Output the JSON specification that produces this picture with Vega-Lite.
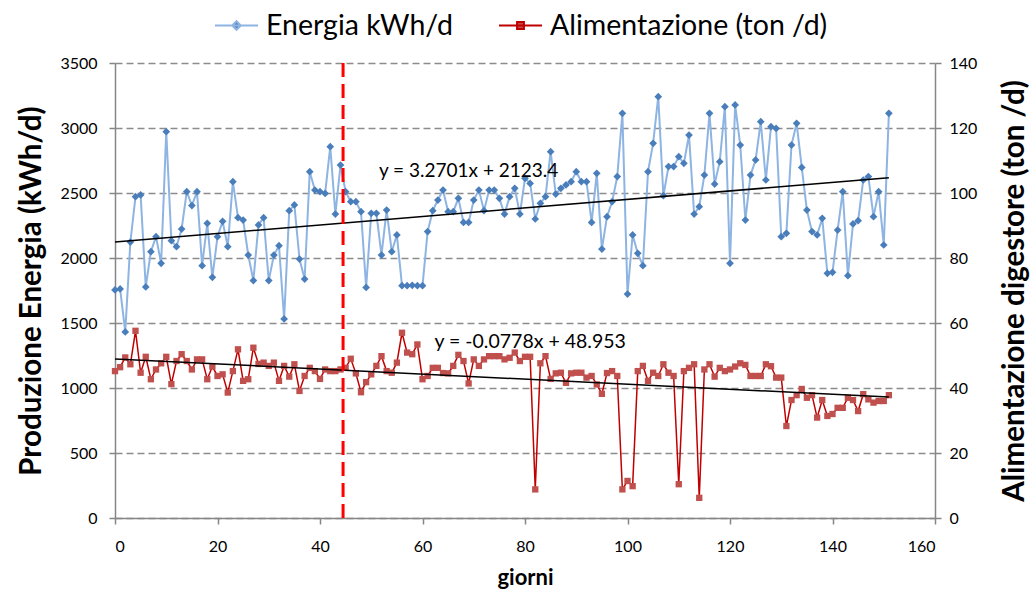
{
 "$schema": "https://vega.github.io/schema/vega-lite/v6.json",
 "width": 820, "height": 455,
 "autosize": "none",
 "padding": {"left": 115, "top": 63, "right": 97, "bottom": 72},
 "background": "white",
 "config": {
  "font": "Lato",
  "view": {"stroke": null},
  "axis": {"domainColor": "#868686", "domainWidth": 1.5, "tickColor": "#868686", "tickWidth": 1.5, "tickSize": 6,
   "labelFontSize": 16, "labelColor": "#000", "labelFont": "Lato", "labelPadding": 12, "format": "d",
   "titleFontSize": 29.5, "titleFont": "Lato", "titleFontWeight": "bold", "titleColor": "#000",
   "gridColor": "#8c8c8c", "gridDash": [7, 4], "gridWidth": 1.3}
 },
 "datasets": {
  "main": [
{"d":0,"e":1754,"a":45.2},{"d":1,"e":1762,"a":46.4},{"d":2,"e":1431,"a":49.4},{"d":3,"e":2123,"a":47.3},{"d":4,"e":2472,"a":57.6},{"d":5,"e":2485,"a":44.7},{"d":6,"e":1777,"a":49.6},{"d":7,"e":2049,"a":42.7},{"d":8,"e":2164,"a":45.7},{"d":9,"e":1959,"a":47.6},
{"d":10,"e":2972,"a":49.6},{"d":11,"e":2133,"a":41.2},{"d":12,"e":2087,"a":48.3},{"d":13,"e":2223,"a":50.4},{"d":14,"e":2510,"a":48.3},{"d":15,"e":2403,"a":45.7},{"d":16,"e":2510,"a":48.8},{"d":17,"e":1941,"a":48.8},{"d":18,"e":2267,"a":42.7},{"d":19,"e":1851,"a":46.6},
{"d":20,"e":2164,"a":43.7},{"d":21,"e":2282,"a":44.2},{"d":22,"e":2087,"a":38.6},{"d":23,"e":2587,"a":45.2},{"d":24,"e":2310,"a":51.9},{"d":25,"e":2292,"a":42.2},{"d":26,"e":2023,"a":42.7},{"d":27,"e":1826,"a":52.4},{"d":28,"e":2254,"a":47.4},{"d":29,"e":2310,"a":47.8},
{"d":30,"e":1826,"a":46.8},{"d":31,"e":2023,"a":47.8},{"d":32,"e":2095,"a":42.2},{"d":33,"e":1531,"a":46.8},{"d":34,"e":2364,"a":43.5},{"d":35,"e":2408,"a":47.3},{"d":36,"e":1992,"a":39.1},{"d":37,"e":1838,"a":43.7},{"d":38,"e":2664,"a":46.2},{"d":39,"e":2523,"a":45.2},
{"d":40,"e":2510,"a":42.8},{"d":41,"e":2497,"a":45.7},{"d":42,"e":2856,"a":45.2},{"d":43,"e":2338,"a":45.2},{"d":44,"e":2715,"a":45.7},{"d":45,"e":2510,"a":46.2},{"d":46,"e":2433,"a":49.0},{"d":47,"e":2433,"a":44.5},{"d":48,"e":2356,"a":38.7},{"d":49,"e":1774,"a":41.8},
{"d":50,"e":2344,"a":44.2},{"d":51,"e":2344,"a":46.8},{"d":52,"e":2023,"a":49.8},{"d":53,"e":2369,"a":45.2},{"d":54,"e":2049,"a":44.7},{"d":55,"e":2177,"a":47.8},{"d":56,"e":1787,"a":57.0},{"d":57,"e":1787,"a":50.9},{"d":58,"e":1790,"a":50.4},{"d":59,"e":1787,"a":53.4},
{"d":60,"e":1787,"a":42.7},{"d":61,"e":2203,"a":43.7},{"d":62,"e":2364,"a":46.2},{"d":63,"e":2446,"a":46.2},{"d":64,"e":2523,"a":44.6},{"d":65,"e":2356,"a":44.5},{"d":66,"e":2356,"a":46.8},{"d":67,"e":2459,"a":50.2},{"d":68,"e":2274,"a":48.3},{"d":69,"e":2274,"a":41.4},
{"d":70,"e":2446,"a":48.8},{"d":71,"e":2523,"a":46.8},{"d":72,"e":2364,"a":48.8},{"d":73,"e":2523,"a":49.8},{"d":74,"e":2523,"a":49.8},{"d":75,"e":2459,"a":49.8},{"d":76,"e":2338,"a":48.8},{"d":77,"e":2472,"a":49.3},{"d":78,"e":2536,"a":50.9},{"d":79,"e":2338,"a":48.3},
{"d":80,"e":2613,"a":49.6},{"d":81,"e":2574,"a":49.6},{"d":82,"e":2300,"a":8.8},{"d":83,"e":2421,"a":47.6},{"d":84,"e":2472,"a":49.8},{"d":85,"e":2818,"a":42.8},{"d":86,"e":2492,"a":44.5},{"d":87,"e":2536,"a":44.7},{"d":88,"e":2562,"a":41.6},{"d":89,"e":2587,"a":44.5},
{"d":90,"e":2664,"a":44.7},{"d":91,"e":2587,"a":44.7},{"d":92,"e":2587,"a":43.2},{"d":93,"e":2274,"a":43.7},{"d":94,"e":2651,"a":41.1},{"d":95,"e":2069,"a":38.2},{"d":96,"e":2318,"a":44.6},{"d":97,"e":2433,"a":45.2},{"d":98,"e":2626,"a":43.7},{"d":99,"e":3113,"a":8.8},
{"d":100,"e":1723,"a":11.4},{"d":101,"e":2177,"a":9.8},{"d":102,"e":2036,"a":45.2},{"d":103,"e":1941,"a":46.8},{"d":104,"e":2664,"a":42.2},{"d":105,"e":2882,"a":44.7},{"d":106,"e":3241,"a":43.7},{"d":107,"e":2479,"a":47.3},{"d":108,"e":2703,"a":44.7},{"d":109,"e":2703,"a":43.7},
{"d":110,"e":2779,"a":10.4},{"d":111,"e":2728,"a":45.2},{"d":112,"e":2946,"a":46.2},{"d":113,"e":2338,"a":47.3},{"d":114,"e":2395,"a":6.2},{"d":115,"e":2638,"a":45.7},{"d":116,"e":3113,"a":47.3},{"d":117,"e":2569,"a":43.5},{"d":118,"e":2741,"a":46.2},{"d":119,"e":3164,"a":45.2},
{"d":120,"e":1959,"a":45.7},{"d":121,"e":3177,"a":46.6},{"d":122,"e":2869,"a":47.6},{"d":123,"e":2292,"a":47.1},{"d":124,"e":2638,"a":43.7},{"d":125,"e":2754,"a":43.7},{"d":126,"e":3049,"a":43.7},{"d":127,"e":2600,"a":47.3},{"d":128,"e":3010,"a":46.7},{"d":129,"e":2997,"a":43.2},
{"d":130,"e":2164,"a":43.2},{"d":131,"e":2190,"a":28.3},{"d":132,"e":2869,"a":36.3},{"d":133,"e":3036,"a":37.8},{"d":134,"e":2697,"a":39.7},{"d":135,"e":2369,"a":37.0},{"d":136,"e":2203,"a":37.8},{"d":137,"e":2177,"a":30.9},{"d":138,"e":2305,"a":36.3},{"d":139,"e":1882,"a":31.4},
{"d":140,"e":1890,"a":32.0},{"d":141,"e":2215,"a":33.9},{"d":142,"e":2510,"a":33.9},{"d":143,"e":1864,"a":37.0},{"d":144,"e":2262,"a":36.3},{"d":145,"e":2287,"a":32.9},{"d":146,"e":2600,"a":38.1},{"d":147,"e":2626,"a":36.5},{"d":148,"e":2318,"a":35.5},{"d":149,"e":2510,"a":36.0},
{"d":150,"e":2100,"a":36.0},{"d":151,"e":3113,"a":37.8}
  ],
  "trendE": [{"d": 0, "v": 2123.4}, {"d": 151, "v": 2617.2}],
  "trendA": [{"d": 0, "v": 48.953}, {"d": 151, "v": 37.205}],
  "labE": [{"d": 69, "v": 2669, "t": "y = 3.2701x + 2123.4"}],
  "labA": [{"d": 81, "v": 54.2, "t": "y = -0.0778x + 48.953"}],
  "cut": [{"d": 44.5}]
 },
 "layer": [
  {"layer": [
   {"data": {"name": "main"}, "mark": {"type": "line", "strokeWidth": 2},
    "encoding": {
     "x": {"field": "d", "type": "quantitative", "scale": {"domain": [0, 160]}, "axis": {"values": [0,20,40,60,80,100,120,140,160], "grid": false, "title": "giorni", "titleFontSize": 22, "titlePadding": 13, "labelPadding": 14}},
     "y": {"field": "e", "type": "quantitative", "scale": {"domain": [0, 3500]}, "axis": {"orient": "left", "values": [0,500,1000,1500,2000,2500,3000,3500], "grid": true, "title": "Produzione Energia (kWh/d)", "titlePadding": 13}},
     "color": {"datum": "Energia kWh/d", "type": "nominal",
      "scale": {"domain": ["Energia kWh/d", "Alimentazione (ton /d)"], "range": ["#8DB4E2", "#C00000"]},
      "legend": {"orient": "none", "legendX": 99, "legendY": -60, "direction": "horizontal", "title": null,
       "labelFontSize": 28.5, "labelFont": "Lato", "labelColor": "#000", "labelLimit": 0, "symbolSize": 1849, "columnPadding": 42, "labelOffset": 7, "symbolStrokeWidth": 2,
       "encode": {"symbols": {"update": {
        "shape": {"signal": "datum.value === 'Energia kWh/d' ? 'M-1,0H1M0,-0.2L0.2,0L0,0.2L-0.2,0Z' : 'M-1,0H1M-0.16,-0.16H0.16V0.16H-0.16Z'"},
        "fill": {"signal": "datum.value === 'Energia kWh/d' ? '#4A7EBB' : '#C0504D'"},
        "stroke": {"signal": "datum.value === 'Energia kWh/d' ? '#8DB4E2' : '#C00000'"},
        "strokeWidth": {"value": 2}, "opacity": {"value": 1}}}}}}
    }},
   {"data": {"name": "main"}, "mark": {"type": "point", "shape": "diamond", "filled": true, "size": 60, "color": "#4A7EBB", "opacity": 1},
    "encoding": {
     "x": {"field": "d", "type": "quantitative", "scale": {"domain": [0, 160]}, "axis": {"values": [0,20,40,60,80,100,120,140,160], "grid": false, "title": "giorni", "titleFontSize": 22, "titlePadding": 13, "labelPadding": 14}},
     "y": {"field": "e", "type": "quantitative", "scale": {"domain": [0, 3500]}, "axis": {"orient": "left", "values": [0,500,1000,1500,2000,2500,3000,3500], "grid": true, "title": "Produzione Energia (kWh/d)", "titlePadding": 13}}
    }},
   {"data": {"name": "trendE"}, "mark": {"type": "line", "color": "#000", "strokeWidth": 1.5},
    "encoding": {
     "x": {"field": "d", "type": "quantitative", "scale": {"domain": [0, 160]}, "axis": {"values": [0,20,40,60,80,100,120,140,160], "grid": false, "title": "giorni", "titleFontSize": 22, "titlePadding": 13, "labelPadding": 14}},
     "y": {"field": "v", "type": "quantitative", "scale": {"domain": [0, 3500]}, "axis": {"orient": "left", "values": [0,500,1000,1500,2000,2500,3000,3500], "grid": true, "title": "Produzione Energia (kWh/d)", "titlePadding": 13}}
    }},
   {"data": {"name": "labE"}, "mark": {"type": "text", "fontSize": 19, "color": "#000", "font": "Lato"},
    "encoding": {
     "x": {"field": "d", "type": "quantitative", "scale": {"domain": [0, 160]}, "axis": {"values": [0,20,40,60,80,100,120,140,160], "grid": false, "title": "giorni", "titleFontSize": 22, "titlePadding": 13, "labelPadding": 14}},
     "y": {"field": "v", "type": "quantitative", "scale": {"domain": [0, 3500]}, "axis": {"orient": "left", "values": [0,500,1000,1500,2000,2500,3000,3500], "grid": true, "title": "Produzione Energia (kWh/d)", "titlePadding": 13}},
     "text": {"field": "t"}
    }}
  ]},
  {"layer": [
   {"data": {"name": "main"}, "mark": {"type": "line", "strokeWidth": 1.5},
    "encoding": {
     "x": {"field": "d", "type": "quantitative", "scale": {"domain": [0, 160]}, "axis": {"values": [0,20,40,60,80,100,120,140,160], "grid": false, "title": "giorni", "titleFontSize": 22, "titlePadding": 13, "labelPadding": 14}},
     "y": {"field": "a", "type": "quantitative", "scale": {"domain": [0, 140]}, "axis": {"orient": "right", "values": [0,20,40,60,80,100,120,140], "grid": false, "title": "Alimentazione digestore (ton /d)", "titleAngle": 270, "titleBaseline": "top", "titlePadding": 24, "labelPadding": 8}},
     "color": {"datum": "Alimentazione (ton /d)", "type": "nominal"}
    }},
   {"data": {"name": "main"}, "mark": {"type": "square", "size": 40, "color": "#C0504D", "opacity": 1},
    "encoding": {
     "x": {"field": "d", "type": "quantitative", "scale": {"domain": [0, 160]}, "axis": {"values": [0,20,40,60,80,100,120,140,160], "grid": false, "title": "giorni", "titleFontSize": 22, "titlePadding": 13, "labelPadding": 14}},
     "y": {"field": "a", "type": "quantitative", "scale": {"domain": [0, 140]}, "axis": {"orient": "right", "values": [0,20,40,60,80,100,120,140], "grid": false, "title": "Alimentazione digestore (ton /d)", "titleAngle": 270, "titleBaseline": "top", "titlePadding": 24, "labelPadding": 8}}
    }},
   {"data": {"name": "trendA"}, "mark": {"type": "line", "color": "#000", "strokeWidth": 1.5},
    "encoding": {
     "x": {"field": "d", "type": "quantitative", "scale": {"domain": [0, 160]}, "axis": {"values": [0,20,40,60,80,100,120,140,160], "grid": false, "title": "giorni", "titleFontSize": 22, "titlePadding": 13, "labelPadding": 14}},
     "y": {"field": "v", "type": "quantitative", "scale": {"domain": [0, 140]}, "axis": {"orient": "right", "values": [0,20,40,60,80,100,120,140], "grid": false, "title": "Alimentazione digestore (ton /d)", "titleAngle": 270, "titleBaseline": "top", "titlePadding": 24, "labelPadding": 8}}
    }},
   {"data": {"name": "labA"}, "mark": {"type": "text", "fontSize": 19.5, "color": "#000", "font": "Lato"},
    "encoding": {
     "x": {"field": "d", "type": "quantitative", "scale": {"domain": [0, 160]}, "axis": {"values": [0,20,40,60,80,100,120,140,160], "grid": false, "title": "giorni", "titleFontSize": 22, "titlePadding": 13, "labelPadding": 14}},
     "y": {"field": "v", "type": "quantitative", "scale": {"domain": [0, 140]}, "axis": {"orient": "right", "values": [0,20,40,60,80,100,120,140], "grid": false, "title": "Alimentazione digestore (ton /d)", "titleAngle": 270, "titleBaseline": "top", "titlePadding": 24, "labelPadding": 8}},
     "text": {"field": "t"}
    }},
   {"data": {"name": "cut"}, "mark": {"type": "rule", "color": "#FF0000", "strokeWidth": 3, "strokeDash": [14, 7]},
    "encoding": {
     "x": {"field": "d", "type": "quantitative", "scale": {"domain": [0, 160]}, "axis": {"values": [0,20,40,60,80,100,120,140,160], "grid": false, "title": "giorni", "titleFontSize": 22, "titlePadding": 13, "labelPadding": 14}}
    }}
  ]}
 ],
 "resolve": {"scale": {"y": "independent"}}
}
